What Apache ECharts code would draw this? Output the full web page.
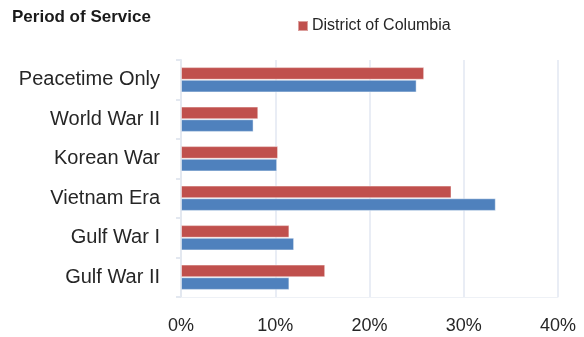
<!DOCTYPE html>
<html>
<head>
<meta charset="utf-8">
<script src="https://cdn.jsdelivr.net/npm/echarts@6/dist/echarts.min.js"></script>
<style>html,body{margin:0;padding:0;background:#fff}#c{width:584px;height:337px}</style>
</head>
<body>
<div id="c"></div>
<script>
const categories = ['Peacetime Only', 'World War II', 'Korean War', 'Vietnam Era', 'Gulf War I', 'Gulf War II'];
const dcValues = [25.8, 8.2, 10.3, 28.7, 11.5, 15.3];
const usValues = [25.0, 7.7, 10.2, 33.4, 12.0, 11.5];
const xTicks = [0, 10, 20, 30, 40];

const chart = echarts.init(document.getElementById('c'), null, {renderer: 'canvas'});
const font = '"Liberation Sans", Arial, sans-serif';
chart.setOption({
  animation: false,
  title: {
    text: 'Period of Service', left: 7, top: 4,
    textStyle: {fontFamily: font, fontSize: 17, fontWeight: 'bold', color: '#1a1a1a'}
  },
  legend: {
    data: ['District of Columbia'], left: 292, top: 13,
    itemWidth: 10, itemHeight: 10, icon: 'rect', itemGap: 4,
    textStyle: {fontFamily: font, fontSize: 16, color: '#262626', padding: [0, 0, 0, -1]}
  },
  grid: {left: 181, right: 26, top: 60, bottom: 40, containLabel: false},
  xAxis: {
    type: 'value', min: xTicks[0], max: xTicks[xTicks.length - 1], interval: 10,
    axisLabel: {formatter: v => v + '%', fontFamily: font, fontSize: 18, color: '#262626', margin: 20},
    axisLine: {show: true, lineStyle: {color: '#eef1f6', width: 1}},
    axisTick: {show: false},
    splitLine: {show: true, lineStyle: {color: '#e9edf5', width: 2}}
  },
  yAxis: {
    type: 'category', data: categories, inverse: true,
    axisLabel: {fontFamily: font, fontSize: 20, color: '#262626', margin: 21},
    axisLine: {show: true, lineStyle: {color: '#e3e8f0', width: 2}},
    axisTick: {show: true, length: 5, lineStyle: {color: '#e3e8f0', width: 2}},
    splitLine: {show: false}
  },
  series: [
    {name: 'District of Columbia', type: 'bar', data: dcValues, barGap: '0%', barCategoryGap: '36%',
     itemStyle: {color: '#C0504D', borderColor: 'rgba(255,255,255,0.45)', borderWidth: 1}},
    {name: 'United States', type: 'bar', data: usValues, barGap: '0%', barCategoryGap: '36%',
     itemStyle: {color: '#4F81BD', borderColor: 'rgba(255,255,255,0.45)', borderWidth: 1}}
  ]
});
</script>
</body>
</html>
